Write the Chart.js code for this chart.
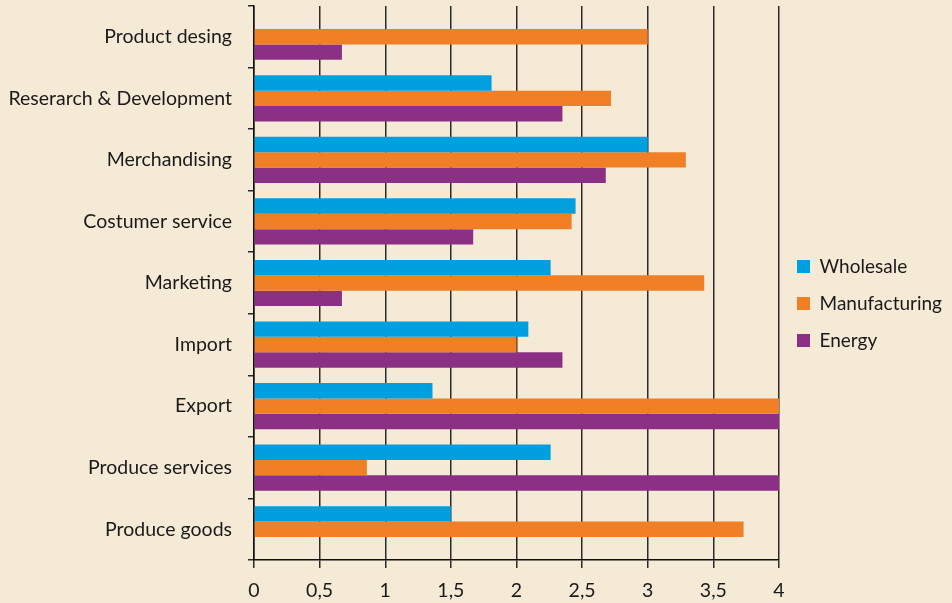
<!DOCTYPE html>
<html>
<head>
<meta charset="utf-8">
<script src="https://cdn.jsdelivr.net/npm/chart.js@4/dist/chart.umd.min.js"></script>
<style>
  html, body { margin: 0; padding: 0; background: #f5ead6; }
  #wrap { width: 952px; height: 603px; }
</style>
</head>
<body>
<div id="wrap"><canvas id="myBarChart"></canvas></div>
<script>
const categories = ['Product desing', 'Reserarch & Development', 'Merchandising', 'Costumer service',
    'Marketing', 'Import', 'Export', 'Produce services', 'Produce goods'];
const wholesale = [null, 1.81, 3.0, 2.45, 2.26, 2.09, 1.36, 2.26, 1.5];
const manufacturing = [3.0, 2.72, 3.29, 2.42, 3.43, 2.0, 4.0, 0.86, 3.73];
const energy = [0.67, 2.35, 2.68, 1.67, 0.67, 2.35, 4.0, 4.0, null];
const xTicks = [0, 0.5, 1, 1.5, 2, 2.5, 3, 3.5, 4];

Chart.defaults.font.family = 'Lato, "Open Sans", sans-serif';
Chart.defaults.font.size = 19.5;
Chart.defaults.color = '#1a1a1a';

var ctx = document.getElementById('myBarChart').getContext('2d');
var myBarChart = new Chart(ctx, {
    type: 'bar',
    data: {
        labels: categories,
        datasets: [
            { label: 'Wholesale', data: wholesale, backgroundColor: '#00a0e0' },
            { label: 'Manufacturing', data: manufacturing, backgroundColor: '#f07f26' },
            { label: 'Energy', data: energy, backgroundColor: '#8c3085' }
        ]
    },
    options: {
        indexAxis: 'y',
        responsive: true,
        maintainAspectRatio: false,
        animation: false,
        layout: { padding: { top: 6, right: 0, left: 4, bottom: 2 } },
        datasets: { bar: { barPercentage: 1, categoryPercentage: 0.75 } },
        plugins: {
            tooltip: { enabled: false },
            legend: {
                position: 'right',
                labels: {
                    boxWidth: 13,
                    boxHeight: 13,
                    padding: 18,
                    font: { size: 19 },
                    color: '#1a1a1a'
                }
            }
        },
        scales: {
            x: {
                min: 0,
                max: 4,
                afterBuildTicks: (axis) => { axis.ticks = xTicks.map(v => ({ value: v })); },
                afterFit: (axis) => { axis.height = 41; },
                ticks: {
                    padding: 11,
                    callback: (v) => String(v).replace('.', ',')
                },
                grid: { color: '#2a2a2a', lineWidth: 1.5, tickLength: 8 },
                border: { color: '#111', width: 1.5 }
            },
            y: {
                ticks: { padding: 16 },
                afterFit: (axis) => { axis.width = 250; axis.paddingTop = 0; axis.paddingBottom = 0; },
                grid: { drawOnChartArea: false, color: '#2a2a2a', lineWidth: 1.5, tickLength: 6 },
                border: { color: '#111', width: 1.5 }
            }
        }
    }
});
</script>
</body>
</html>
